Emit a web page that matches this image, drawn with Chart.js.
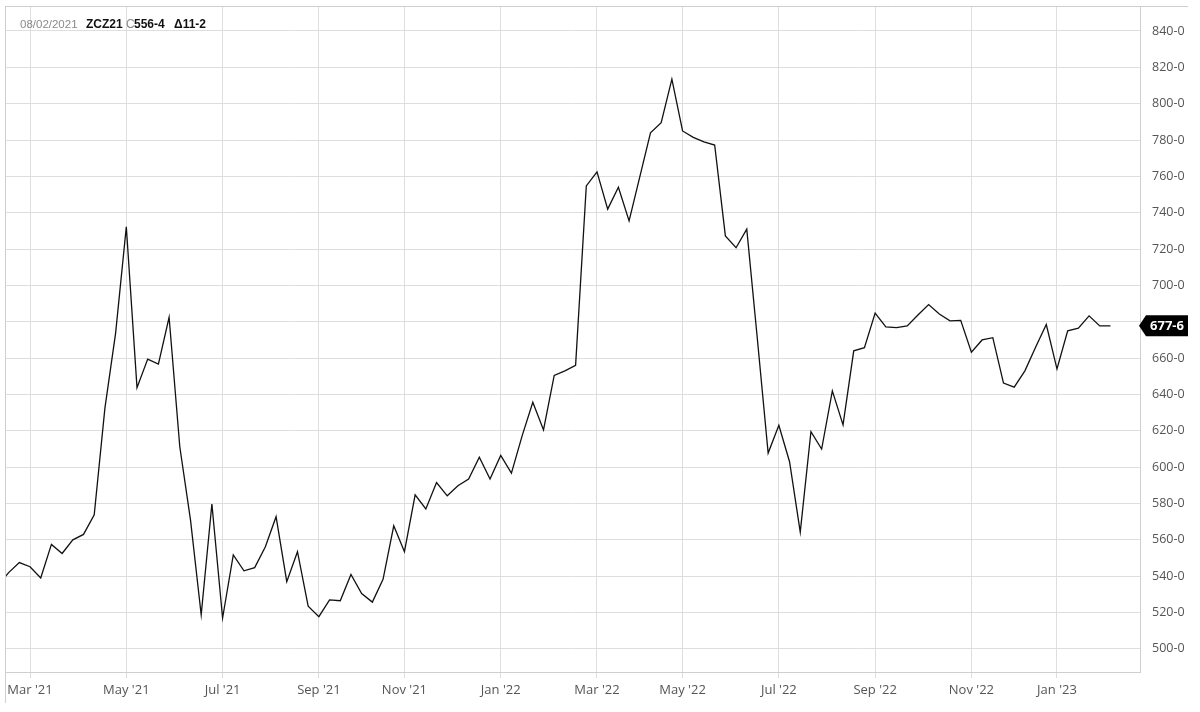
<!DOCTYPE html>
<html>
<head>
<meta charset="utf-8">
<title>ZCZ21 weekly</title>
<script src="https://cdn.jsdelivr.net/npm/chart.js@4/dist/chart.umd.min.js"></script>
<style>
  html, body { margin: 0; padding: 0; background: #fff; }
  canvas { display: block; }
</style>
</head>
<body>
<canvas id="priceChart" width="1200" height="712"></canvas>
<script>
// Weekly closes, one per week (Mondays), first value is week -3 (Feb 8 '21)
const firstWeek = -3;
const closes = [
  535, 542, 547.5, 545.25, 539, 557.5, 552.5, 560, 563, 573.75,
  632.5, 673.75, 732.25, 643.75, 659.5, 656.75, 682.5, 611.25, 571, 518.75,
  579.75, 517, 551.75, 543, 544.75, 556.25, 572.75, 537, 553.5, 523.5,
  517.75, 527, 526.5, 541, 530.5, 525.75, 538.25, 567.75, 553.5, 584.75,
  577, 591.5, 584.25, 589.75, 593.5, 605.5, 593.5, 606.5, 596.75, 617.25,
  635.75, 620.5, 650.5, 653, 656, 754.75, 762.5, 742, 754, 735.5,
  759.75, 784, 789.5, 813.5, 785, 781.5, 779, 777.25, 727.25, 720.75,
  731, 670, 607.75, 623, 603, 564.25, 619.5, 610, 642, 623.25,
  664, 665.75, 684.75, 677.25, 676.75, 677.75, 683.75, 689.5, 684.25, 680.5,
  680.75, 663.25, 670, 671.25, 646.25, 644, 653, 666, 678.5, 654,
  675, 676.5, 683.25, 677.75, 677.75
];

// Month ticks: week index of the first weekly bar of each month
const monthWeeks = [0, 9, 18, 27, 35, 44, 53, 61, 70, 79, 88, 96];
const monthLabels = ["Mar '21", "May '21", "Jul '21", "Sep '21", "Nov '21", "Jan '22",
                     "Mar '22", "May '22", "Jul '22", "Sep '22", "Nov '22", "Jan '23"];

const priceTicks = [500, 520, 540, 560, 580, 600, 620, 640, 660, 680, 700,
                    720, 740, 760, 780, 800, 820, 840];

// Header text pieces
const headerParts = [
  { text: '08/02/2021', x: 20, bold: false, color: '#8a8a8a', size: 11.5 },
  { text: 'ZCZ21', x: 86, bold: true, color: '#111', size: 12 },
  { text: 'C', x: 126, bold: false, color: '#8a8a8a', size: 12 },
  { text: '556-4', x: 134, bold: true, color: '#111', size: 12 },
  { text: '\u039411-2', x: 174, bold: true, color: '#111', size: 12 }
];

const gridColor = '#dedede';
const fontFamily = "'Open Sans', sans-serif";

// corn quotes in eighths: 677.75 -> "677-6"
function toEighths(v) {
  const whole = Math.floor(v);
  return whole + '-' + Math.round((v - whole) * 8);
}

const points = closes.map((v, i) => ({ x: firstWeek + i, y: v }));

// frame lines, header and last price tag
const extrasPlugin = {
  id: 'extras',
  afterDraw(chart) {
    const ctx = chart.ctx;
    const area = chart.chartArea;
    ctx.save();
    ctx.strokeStyle = '#cfcfcf';
    ctx.lineWidth = 1;
    ctx.beginPath();
    ctx.moveTo(area.left + 0.5, area.top + 0.5);
    ctx.lineTo(1188, area.top + 0.5);
    ctx.moveTo(area.left + 0.5, area.top);
    ctx.lineTo(area.left + 0.5, 703);
    ctx.stroke();

    ctx.textBaseline = 'alphabetic';
    ctx.textAlign = 'left';
    headerParts.forEach(p => {
      ctx.font = (p.bold ? 'bold ' : '') + p.size + 'px "Liberation Sans", Arial, sans-serif';
      ctx.fillStyle = p.color;
      ctx.fillText(p.text, p.x, 28);
    });

    const last = closes[closes.length - 1];
    const y = chart.scales.y.getPixelForValue(last);
    const x0 = area.right - 1;
    ctx.fillStyle = '#000';
    ctx.beginPath();
    ctx.moveTo(x0, y);
    ctx.lineTo(x0 + 7, y - 10.5);
    ctx.lineTo(1188, y - 10.5);
    ctx.lineTo(1188, y + 10.5);
    ctx.lineTo(x0 + 7, y + 10.5);
    ctx.closePath();
    ctx.fill();
    ctx.fillStyle = '#fff';
    ctx.font = 'bold 13px ' + fontFamily;
    ctx.textAlign = 'center';
    ctx.textBaseline = 'middle';
    ctx.fillText(toEighths(last), 1167, y + 0.5);
    ctx.restore();
  }
};

new Chart(document.getElementById('priceChart'), {
  type: 'line',
  data: {
    datasets: [{
      data: points,
      borderColor: '#111',
      borderWidth: 1.3,
      pointRadius: 0,
      tension: 0,
      fill: false
    }]
  },
  options: {
    responsive: false,
    animation: false,
    devicePixelRatio: 1,
    layout: { padding: { top: 6, left: 5, right: 0, bottom: 0 } },
    plugins: {
      legend: { display: false },
      tooltip: { enabled: false }
    },
    scales: {
      x: {
        type: 'linear',
        min: -2.34,
        max: 103.76,
        afterBuildTicks: scale => {
          scale.ticks = monthWeeks.map(w => ({ value: w }));
        },
        afterFit: scale => {
          scale.height = 40;
          scale.paddingLeft = 0;
          scale.paddingRight = 0;
        },
        grid: { color: gridColor, drawTicks: true, tickLength: 6 },
        border: { display: true, color: '#cfcfcf' },
        ticks: {
          autoSkip: false,
          maxRotation: 0,
          padding: 4,
          color: '#555',
          font: { family: fontFamily, size: 13 },
          callback: value => monthLabels[monthWeeks.indexOf(value)]
        }
      },
      y: {
        position: 'right',
        min: 487.3,
        max: 853.75,
        afterBuildTicks: scale => {
          scale.ticks = priceTicks.map(v => ({ value: v }));
        },
        afterFit: scale => {
          scale.width = 60;
          scale.paddingTop = 0;
          scale.paddingBottom = 0;
        },
        grid: { color: gridColor, drawTicks: false },
        border: { display: true, color: '#cfcfcf' },
        ticks: {
          padding: 12,
          color: '#555',
          font: { family: fontFamily, size: 12.5 },
          callback: value => value + '-0'
        }
      }
    }
  },
  plugins: [extrasPlugin]
});
</script>
</body>
</html>
